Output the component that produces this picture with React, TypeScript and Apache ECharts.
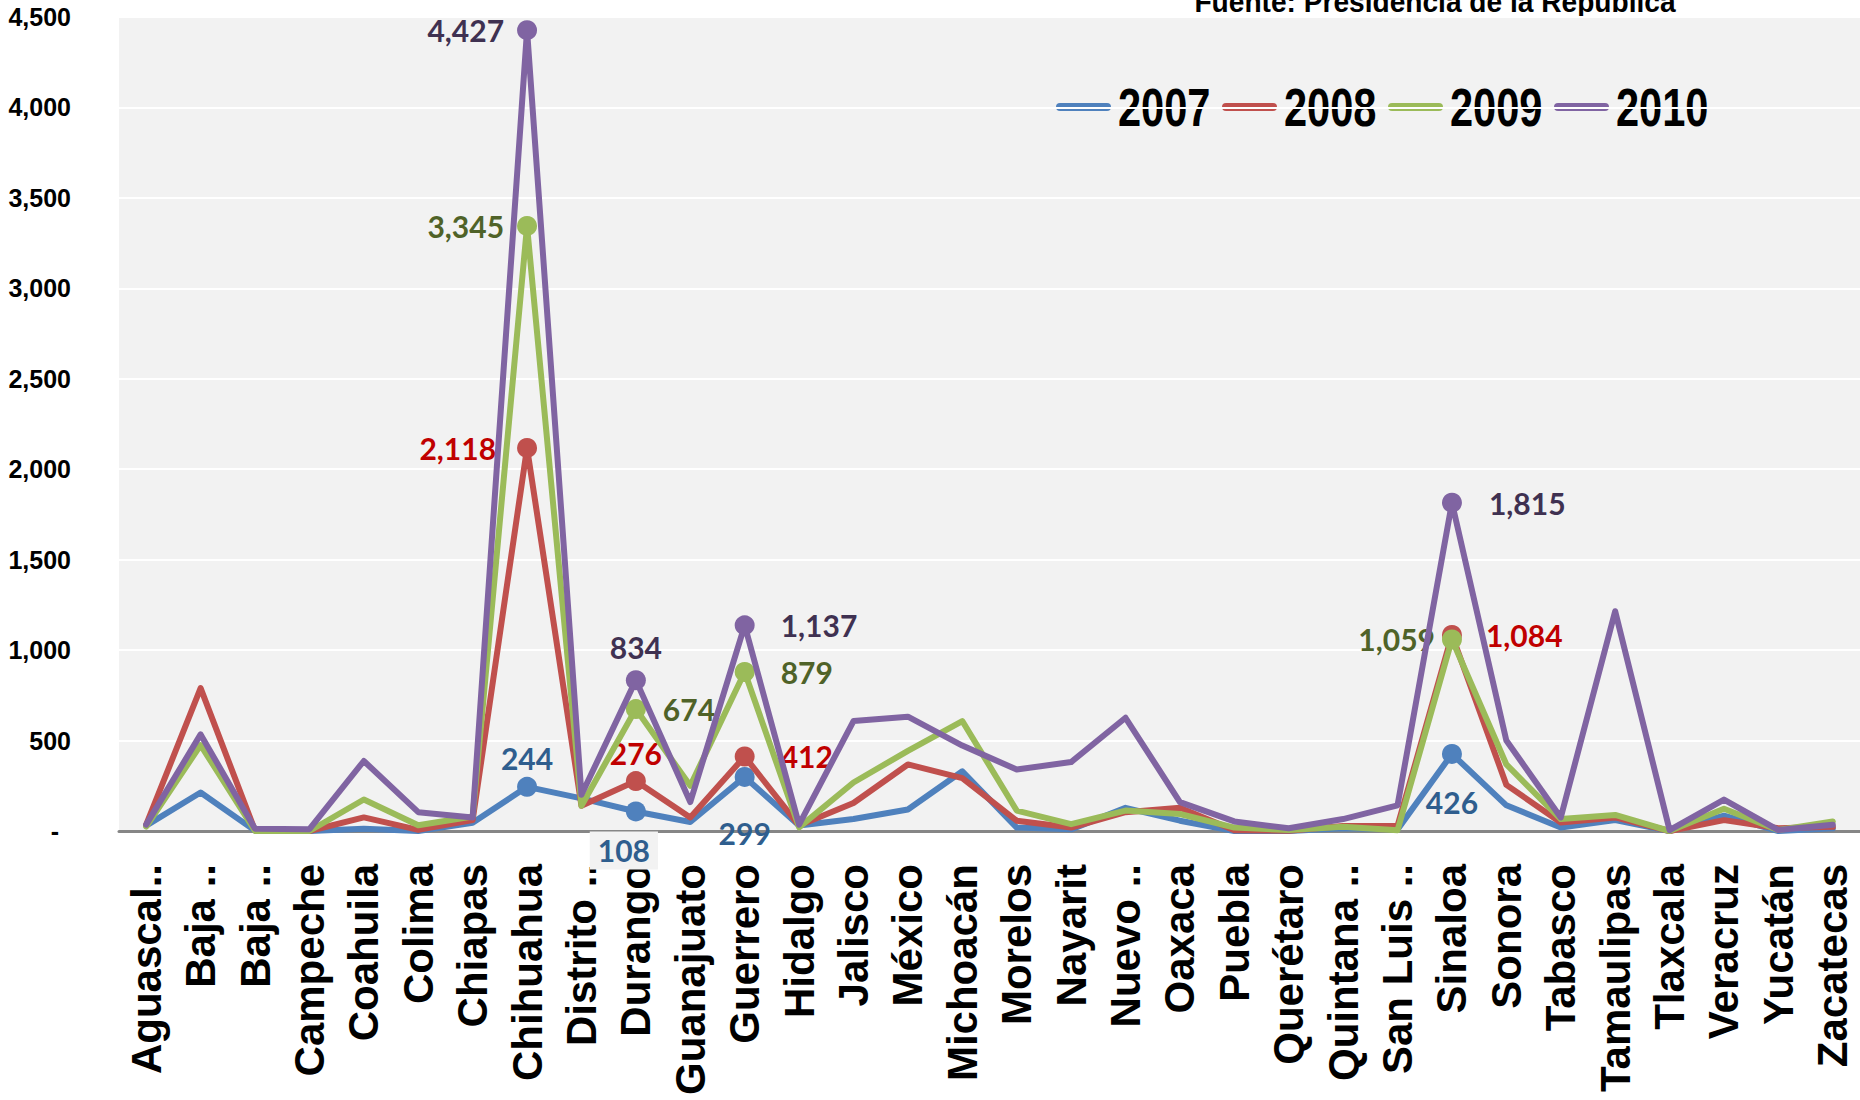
import React, { useEffect, useRef } from "react";
import * as echarts from "echarts";

const states = [
  "Aguascalientes", "Baja California", "Baja California Sur", "Campeche", "Coahuila", "Colima",
  "Chiapas", "Chihuahua", "Distrito Federal", "Durango", "Guanajuato", "Guerrero", "Hidalgo",
  "Jalisco", "México", "Michoacán", "Morelos", "Nayarit", "Nuevo León", "Oaxaca", "Puebla",
  "Querétaro", "Quintana Roo", "San Luis Potosí", "Sinaloa", "Sonora", "Tabasco", "Tamaulipas",
  "Tlaxcala", "Veracruz", "Yucatán", "Zacatecas",
];

const tickLabels = [
  "Aguascal..", "Baja ..", "Baja ..", "Campeche", "Coahuila", "Colima",
  "Chiapas", "Chihuahua", "Distrito ..", "Durango", "Guanajuato", "Guerrero", "Hidalgo",
  "Jalisco", "México", "Michoacán", "Morelos", "Nayarit", "Nuevo ..", "Oaxaca", "Puebla",
  "Querétaro", "Quintana ..", "San Luis ..", "Sinaloa", "Sonora", "Tabasco", "Tamaulipas",
  "Tlaxcala", "Veracruz", "Yucatán", "Zacatecas",
];

const years = ["2007", "2008", "2009", "2010"];

const v2007 = [30, 213, 2, 0, 13, 0, 45, 244, 180, 108, 50, 299, 30, 66, 119, 330, 19, 9, 128, 57, 0, 0, 15, 9, 426, 142, 19, 60, 0, 85, 0, 15];
const v2008 = [35, 790, 3, 0, 75, 6, 60, 2118, 140, 276, 75, 412, 30, 155, 368, 292, 57, 19, 104, 128, 4, 2, 28, 28, 1084, 255, 47, 75, 0, 60, 15, 23];
const v2009 = [25, 475, 0, 0, 174, 32, 80, 3345, 140, 674, 250, 879, 20, 268, 443, 608, 113, 38, 113, 94, 19, 5, 23, 4, 1059, 368, 66, 89, 0, 123, 5, 53];
const v2010 = [35, 534, 12, 10, 387, 104, 75, 4427, 200, 834, 160, 1137, 35, 608, 632, 472, 340, 381, 626, 160, 53, 15, 66, 142, 1815, 500, 75, 1215, 5, 174, 5, 34];

const yearValues = [v2007, v2008, v2009, v2010];

const lineColors = ["#4F81BD", "#C0504D", "#9BBB59", "#8064A2"];
const labelColors = ["#2F5E8E", "#C00000", "#4F6228", "#3F3151"];

// highlighted (labelled) points: [series, category, label position, distance]
const callouts: [number, number, string, number][] = [
  [0, 7, "top", 4], [0, 9, "bottom", 10], [0, 11, "bottom", 31], [0, 24, "bottom", 23],
  [1, 7, "left", 21], [1, 9, "top", 3], [1, 11, "right", 26], [1, 24, "right", 24],
  [2, 7, "left", 13], [2, 9, "right", 17], [2, 11, "right", 26], [2, 24, "left", 7],
  [3, 7, "left", 13], [3, 9, "top", 8], [3, 11, "right", 26], [3, 24, "right", 27],
];

const fmt = (v: number) => v.toLocaleString("en-US");

const SANS = "'Liberation Sans', Arial, sans-serif";

export default function App() {
  const ref = useRef<HTMLDivElement>(null);

  useEffect(() => {
    if (!ref.current) return;
    const chart = echarts.init(ref.current, null, { renderer: "svg" });

    const series = years.map((y, s) => ({
      name: y,
      type: "line",
      symbol: "none",
      z: 2 + s,
      lineStyle: { color: lineColors[s], width: 6, cap: "round", join: "round" },
      itemStyle: { color: lineColors[s] },
      emphasis: { disabled: true },
      silent: true,
      data: yearValues[s].map((v, i) => {
        const c = callouts.find((k) => k[0] === s && k[1] === i);
        if (!c) return v;
        const label: any = {
          show: true,
          position: c[2],
          distance: c[3],
          formatter: (p: any) => fmt(p.value),
          fontFamily: "Lato",
          fontWeight: "bold",
          fontSize: 30,
          color: labelColors[s],
        };
        if (s === 0 && i === 9) {
          label.backgroundColor = "#F2F2F2";
          label.padding = [4, 8];
          label.offset = [-12, 0];
        }
        return { value: v, symbol: "circle", symbolSize: 20, label };
      }),
    }));

    // custom legend (condensed bold text, thick line keys)
    const legendLeft = 1056;
    const legendStep = 166;
    const legendY = 107;
    const legendEls: any[] = [];
    years.forEach((y, s) => {
      const x0 = legendLeft + s * legendStep;
      legendEls.push({
        type: "rect",
        silent: true,
        shape: { x: x0, y: legendY - 4, width: 55, height: 8, r: 4 },
        style: { fill: lineColors[s] },
      });
      legendEls.push({
        type: "text",
        silent: true,
        x: x0 + 62,
        y: legendY,
        scaleX: 0.77,
        style: {
          text: y,
          textAlign: "left",
          textVerticalAlign: "middle",
          fontFamily: SANS,
          fontWeight: "bold",
          fontSize: 54,
          fill: "#000000",
        },
      });
    });

    chart.setOption({
      animation: false,
      backgroundColor: "#FFFFFF",
      grid: {
        left: 119,
        right: 0,
        top: 17,
        bottom: 269,
        show: true,
        backgroundColor: "#F2F2F2",
        borderWidth: 0,
        containLabel: false,
        outerBoundsMode: "none",
      },
      graphic: [
        {
          type: "text",
          x: 1435,
          y: 16,
          silent: true,
          scaleX: 0.97,
          style: {
            text: "Fuente: Presidencia de la República",
            textAlign: "center",
            textVerticalAlign: "bottom",
            fontFamily: SANS,
            fontWeight: "bold",
            fontSize: 29,
            fill: "#000000",
          },
        },
        ...legendEls,
      ],
      xAxis: {
        type: "category",
        data: states,
        boundaryGap: true,
        axisLine: { show: true, lineStyle: { color: "#868686", width: 3 } },
        axisTick: { show: false },
        splitLine: { show: false },
        axisLabel: {
          interval: 0,
          rotate: 90,
          margin: 33,
          formatter: (_v: string, i: number) => tickLabels[i],
          fontFamily: SANS,
          fontWeight: "bold",
          fontSize: 42,
          color: "#000000",
        },
      },
      yAxis: {
        type: "value",
        min: 0,
        max: 4500,
        interval: 500,
        axisLine: { show: false },
        axisTick: { show: false },
        splitLine: { show: true, lineStyle: { color: "#FFFFFF", width: 2 } },
        axisLabel: {
          margin: 48,
          formatter: (v: number) => (v === 0 ? "{z|-}" : fmt(v)),
          fontFamily: SANS,
          fontWeight: "bold",
          fontSize: 25,
          color: "#000000",
          rich: {
            z: {
              fontFamily: SANS,
              fontWeight: "bold",
              fontSize: 25,
              color: "#000000",
              padding: [0, 12, 0, 0],
            },
          },
        },
      },
      series,
    });

    return () => chart.dispose();
  }, []);

  return (
    <div
      ref={ref}
      style={{ position: "absolute", left: 0, top: 0, width: 1860, height: 1100, background: "#FFFFFF" }}
    />
  );
}
